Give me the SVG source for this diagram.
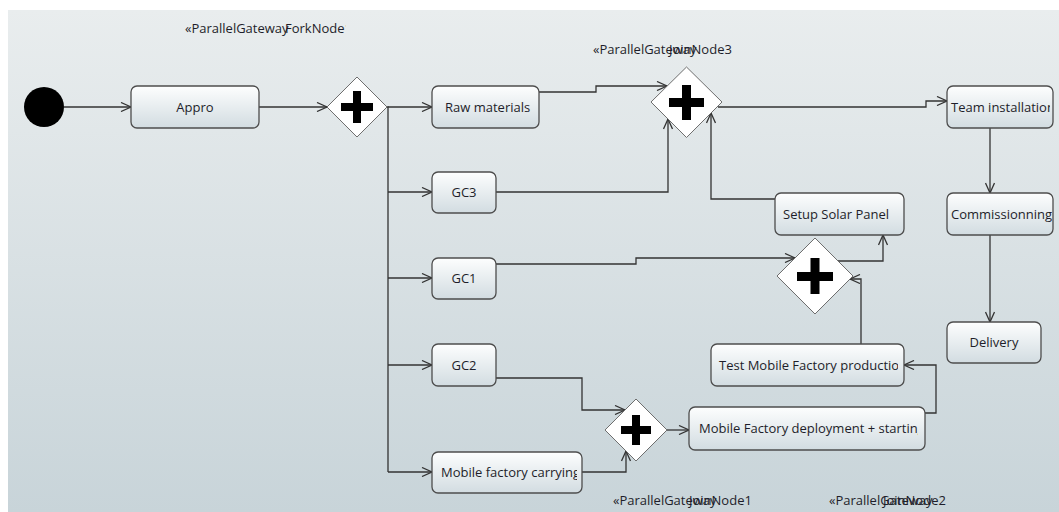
<svg xmlns="http://www.w3.org/2000/svg" width="1059" height="512" viewBox="0 0 1059 512">
<defs>
<linearGradient id="bg" x1="0" y1="0" x2="0" y2="1"><stop offset="0" stop-color="#e9edee"/><stop offset="1" stop-color="#c8d4d9"/></linearGradient>
<linearGradient id="ng" x1="0" y1="0" x2="0" y2="1"><stop offset="0" stop-color="#fdfefe"/><stop offset="1" stop-color="#d2dce1"/></linearGradient>
<marker id="ar" markerUnits="userSpaceOnUse" markerWidth="12" markerHeight="10" refX="11" refY="5" orient="auto"><path d="M1,0.5 L11,5 L1,9.5" fill="none" stroke="#333" stroke-width="1.3"/></marker>
<clipPath id="cRaw"><rect x="432" y="86" width="105" height="42"/></clipPath>
<clipPath id="cTeam"><rect x="947" y="86" width="103" height="42"/></clipPath>
<clipPath id="cComm"><rect x="947" y="193" width="105" height="42"/></clipPath>
<clipPath id="cSetup"><rect x="775" y="193" width="124" height="42"/></clipPath>
<clipPath id="cTest"><rect x="711" y="344" width="187" height="42"/></clipPath>
<clipPath id="cDep"><rect x="689" y="407" width="229" height="43"/></clipPath>
<clipPath id="cMob"><rect x="432" y="452" width="145" height="41"/></clipPath>
<clipPath id="cL1"><rect x="180" y="15" width="166" height="25"/></clipPath>
<clipPath id="cL2"><rect x="588" y="36" width="144" height="25"/></clipPath>
<clipPath id="cL3"><rect x="608" y="487" width="144" height="25"/></clipPath>
<clipPath id="cL4"><rect x="824" y="487" width="122" height="25"/></clipPath>
</defs>
<style>
.n{fill:url(#ng);stroke:#4d4d4d;stroke-width:1.3}
.t{font-family:"Open Sans","Noto Sans",sans-serif;font-size:13px;fill:#1e1e2a}
.c{text-anchor:middle}
.d{fill:#fff;stroke:#6e6e6e;stroke-width:1}
.p{fill:#000}
.e{fill:none;stroke:#333;stroke-width:1.3;marker-end:url(#ar)}
.l{fill:none;stroke:#333;stroke-width:1.3}
</style>
<rect x="8" y="10" width="1051" height="502" fill="url(#bg)"/>

<g id="connectors">
<path class="e" d="M64,107 H131"/>
<path class="e" d="M259,107 H327"/>
<path class="l" d="M387,107 H388 V472"/>
<path class="e" d="M388,107 H432"/>
<path class="e" d="M388,192 H432"/>
<path class="e" d="M388,278 H432"/>
<path class="e" d="M388,365 H432"/>
<path class="e" d="M388,472 H432"/>
<path class="e" d="M539,92 H596 V86 H667"/>
<path class="e" d="M496,192 H668 V119"/>
<path class="e" d="M775,199 H711 V113"/>
<path class="e" d="M718,107 H926 V101 H947"/>
<path class="e" d="M990,128 V193"/>
<path class="e" d="M990,235 V322"/>
<path class="e" d="M496,264 H636 V258 H795"/>
<path class="e" d="M861,344 V279 H850"/>
<path class="e" d="M838,261 H883 V235"/>
<path class="e" d="M496,378 H582 V410 H625"/>
<path class="e" d="M582,472 H626 V451"/>
<path class="e" d="M667,430 H689"/>
<path class="e" d="M925,413 H936 V365 H904"/>
</g>

<g id="start"><circle cx="44" cy="107" r="20" fill="#000"/></g>

<g id="appro"><rect class="n" x="131" y="86" width="128" height="42" rx="6"/><text class="t c" x="195" y="111.5">Appro</text></g>

<g id="fork1">
<polygon class="d" points="357,77 387,107 357,137 327,107"/>
<rect class="p" x="341" y="103" width="32" height="8"/><rect class="p" x="353" y="91" width="8" height="32"/>
<g clip-path="url(#cL1)"><text class="t" x="185" y="33">«ParallelGateway</text><text class="t" x="285" y="33">ForkNode1</text></g>
</g>

<g id="raw"><rect class="n" x="432" y="86" width="107" height="42" rx="6"/><g clip-path="url(#cRaw)"><text class="t" x="445" y="111.5">Raw materials</text></g></g>
<g id="gc3"><rect class="n" x="432" y="172" width="64" height="41" rx="6"/><text class="t c" x="464" y="197">GC3</text></g>
<g id="gc1"><rect class="n" x="432" y="258" width="64" height="41" rx="6"/><text class="t c" x="464" y="283">GC1</text></g>
<g id="gc2"><rect class="n" x="432" y="344" width="64" height="42" rx="6"/><text class="t c" x="464" y="369.5">GC2</text></g>
<g id="mobcarry"><rect class="n" x="432" y="452" width="150" height="41" rx="6"/><g clip-path="url(#cMob)"><text class="t" x="441" y="477">Mobile factory carrying</text></g></g>

<g id="join3">
<polygon class="d" points="686.5,67 722,102 686.5,137.5 651,102"/>
<rect class="p" x="669" y="98" width="35" height="9"/><rect class="p" x="682" y="85" width="9" height="35"/>
<g clip-path="url(#cL2)"><text class="t" x="593" y="54">«ParallelGateway</text><text class="t" x="669" y="54">JoinNode3</text></g>
</g>

<g id="join2">
<polygon class="d" points="815,238 853,276 815,314 777,276"/>
<rect class="p" x="797" y="272" width="36" height="9"/><rect class="p" x="810.5" y="258" width="9" height="36"/>
<g clip-path="url(#cL4)"><text class="t" x="829" y="505">«ParallelGateway</text><text class="t" x="883" y="505">JoinNode2</text></g>
</g>

<g id="join1">
<polygon class="d" points="636,399 667,430 636,461 605,430"/>
<rect class="p" x="621" y="426" width="30" height="8"/><rect class="p" x="632" y="415" width="8" height="30"/>
<g clip-path="url(#cL3)"><text class="t" x="613" y="505">«ParallelGateway</text><text class="t" x="689" y="505">JoinNode1</text></g>
</g>

<g id="setup"><rect class="n" x="775" y="193" width="129" height="42" rx="6"/><g clip-path="url(#cSetup)"><text class="t" x="783" y="218.5">Setup Solar Panel</text></g></g>
<g id="test"><rect class="n" x="711" y="344" width="193" height="42" rx="6"/><g clip-path="url(#cTest)"><text class="t" x="719" y="369.5">Test Mobile Factory production</text></g></g>
<g id="deploy"><rect class="n" x="689" y="407" width="236" height="43" rx="6"/><g clip-path="url(#cDep)"><text class="t" x="699" y="433">Mobile Factory deployment + starting</text></g></g>
<g id="team"><rect class="n" x="947" y="86" width="106" height="42" rx="6"/><g clip-path="url(#cTeam)"><text class="t" x="951" y="111.5">Team installation</text></g></g>
<g id="comm"><rect class="n" x="947" y="193" width="106" height="42" rx="6"/><g clip-path="url(#cComm)"><text class="t" x="951" y="218.5">Commissionning</text></g></g>
<g id="delivery"><rect class="n" x="947" y="322" width="94" height="41" rx="6"/><text class="t c" x="994" y="347">Delivery</text></g>
</svg>
